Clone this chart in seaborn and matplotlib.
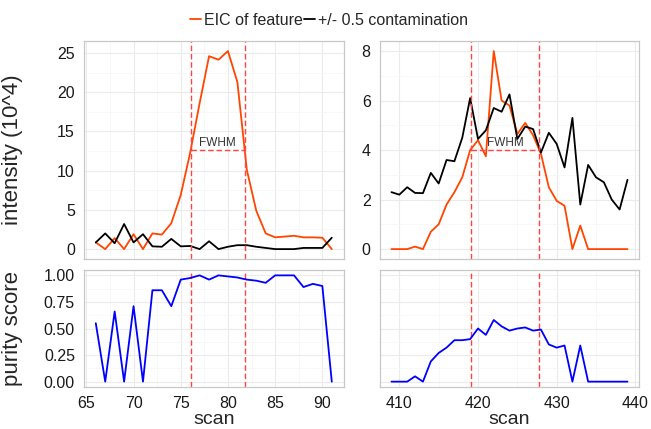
import numpy as np
import pandas as pd
import seaborn as sns
import matplotlib
matplotlib.use('Agg')
import matplotlib.pyplot as plt
from matplotlib.ticker import MultipleLocator

# feature A (left column)
scans_a = list(range(66, 92))
eic_a = [0.85, 0, 1.4, 0, 1.9, 0, 2.0, 1.85, 3.3, 6.9, 12.3, 18.6, 24.6, 24.15, 25.25,
         21.3, 10.1, 4.9, 2.0, 1.5, 1.6, 1.7, 1.5, 1.5, 1.45, 0]
cont_a = [0.85, 2.0, 0.75, 3.2, 0.85, 1.9, 0.35, 0.3, 1.3, 0.35, 0.4, 0, 1.0, 0, 0.3,
          0.5, 0.5, 0.3, 0.15, 0, 0, 0, 0.15, 0.15, 0.15, 1.45]
purity_a = [0.55, 0, 0.66, 0, 0.71, 0, 0.86, 0.86, 0.71, 0.96, 0.975, 1.0, 0.96, 1.0, 0.99,
            0.98, 0.96, 0.95, 0.93, 1.0, 1.0, 1.0, 0.89, 0.92, 0.9, 0]
fwhm_a = [76.05, 81.76]

# feature B (right column)
scans_b = list(range(409, 440))
eic_b = [0, 0, 0, 0.1, 0, 0.7, 1.0, 1.8, 2.3, 2.9, 4.0, 4.4, 3.75, 8.0, 6.0, 5.8, 4.65,
         5.1, 4.6, 3.85, 2.5, 1.95, 1.75, 0, 0.95, 0, 0, 0, 0, 0, 0]
cont_b = [2.3, 2.2, 2.5, 2.27, 2.26, 3.08, 2.65, 3.6, 3.55, 4.5, 6.1, 4.45, 4.8, 5.7, 5.55,
          6.25, 4.45, 4.95, 4.85, 3.9, 4.7, 4.25, 3.3, 5.3, 1.8, 3.4, 2.9, 2.7, 2.0, 1.6, 2.8]
purity_b = [0, 0, 0, 0.05, 0, 0.19, 0.27, 0.32, 0.39, 0.39, 0.40, 0.5, 0.44, 0.58, 0.52,
            0.48, 0.5, 0.51, 0.48, 0.49, 0.35, 0.32, 0.34, 0, 0.34, 0, 0, 0, 0, 0, 0]
fwhm_b = [419.17, 427.7]

series_names = ['EIC of feature', '+/- 0.5 contamination']
palette = {'EIC of feature': '#FF4500', '+/- 0.5 contamination': 'black'}
vcol = '#FF4444'

sns.set_style('white')
plt.rcParams['font.family'] = ['Liberation Sans', 'DejaVu Sans']

fig = plt.figure(figsize=(6.51, 4.29), dpi=100)
gs = fig.add_gridspec(2, 2, height_ratios=[218, 117], left=0.129, right=0.982,
                      top=0.904, bottom=0.098, wspace=0.139, hspace=0.066)


def expand(v):
    lo, hi = min(v), max(v)
    pad = (hi - lo) * 0.05
    return lo - pad, hi + pad


def style(ax, xmaj, ymaj):
    ax.xaxis.set_major_locator(MultipleLocator(xmaj))
    ax.xaxis.set_minor_locator(MultipleLocator(xmaj / 2))
    ax.yaxis.set_major_locator(MultipleLocator(ymaj))
    ax.yaxis.set_minor_locator(MultipleLocator(ymaj / 2))
    ax.grid(which='major', color='#ebebeb', lw=0.8)
    ax.grid(which='minor', color='#f6f6f6', lw=0.5)
    ax.set_axisbelow(True)
    for s in ax.spines.values():
        s.set_color('#c8c8c8')
        s.set_linewidth(0.9)
    ax.tick_params(which='major', direction='out', length=4, width=0.8, color='#444444',
                   labelsize=11.5, labelcolor='#1a1a1a', pad=2.5)
    ax.tick_params(which='minor', length=0)
    ax.set_xlabel('')
    ax.set_ylabel('')


handles = None
cols = [(scans_a, eic_a, cont_a, purity_a, fwhm_a, 5, 5),
        (scans_b, eic_b, cont_b, purity_b, fwhm_b, 10, 2)]
for c, (sc, eic, cont, pur, fw, xmaj, ymaj) in enumerate(cols):
    ax_top = fig.add_subplot(gs[0, c])
    ax_bot = fig.add_subplot(gs[1, c])

    df = pd.DataFrame({'scan': sc * 2,
                       'intensity': eic + cont,
                       'series': [series_names[0]] * len(sc) + [series_names[1]] * len(sc)})
    sns.lineplot(data=df, x='scan', y='intensity', hue='series', palette=palette,
                 hue_order=series_names, lw=1.3, ax=ax_top)
    handles, labels = ax_top.get_legend_handles_labels()
    ax_top.get_legend().remove()

    half = max(eic) / 2
    for ax in (ax_top, ax_bot):
        for xv in fw:
            ax.axvline(xv, color=vcol, ls=(0, (4, 2)), lw=1)
    ax_top.plot(fw, [half, half], color=vcol, ls=(0, (4, 2)), lw=1)
    ax_top.text(np.mean(fw), half + max(eic) * 0.008, 'FWHM', ha='center', va='bottom',
                fontsize=8.5, color='#333333')

    dfp = pd.DataFrame({'scan': sc, 'purity': pur})
    sns.lineplot(data=dfp, x='scan', y='purity', color='#0000FF', lw=1.3, ax=ax_bot)

    xl = expand(sc)
    ax_top.set_xlim(xl)
    ax_bot.set_xlim(xl)
    ax_top.set_ylim(expand(eic + cont))
    ax_bot.set_ylim(expand([0, 1]))
    style(ax_top, xmaj, ymaj)
    style(ax_bot, xmaj, 0.25)
    ax_top.tick_params(labelbottom=False)
    ax_bot.yaxis.set_major_formatter(plt.FuncFormatter(lambda v, p: f'{v:.2f}'))
    ax_bot.set_xlabel('scan', fontsize=14, labelpad=0)
    if c == 0:
        ax_top.set_ylabel('intensity (10^4)', fontsize=16, labelpad=0)
        ax_bot.set_ylabel('purity score', fontsize=16, labelpad=0)
        ax_top.yaxis.set_label_coords(-0.235, 0.5)
        ax_bot.yaxis.set_label_coords(-0.235, 0.5)
    else:
        ax_bot.tick_params(labelleft=False)

fig.legend(handles, labels, loc='center', bbox_to_anchor=(0.505, 0.953), ncol=2,
           frameon=False, fontsize=11.5, handlelength=0.7, handletextpad=0.15,
           columnspacing=0.1, borderaxespad=0)

fig.savefig('out.png', dpi=100)
